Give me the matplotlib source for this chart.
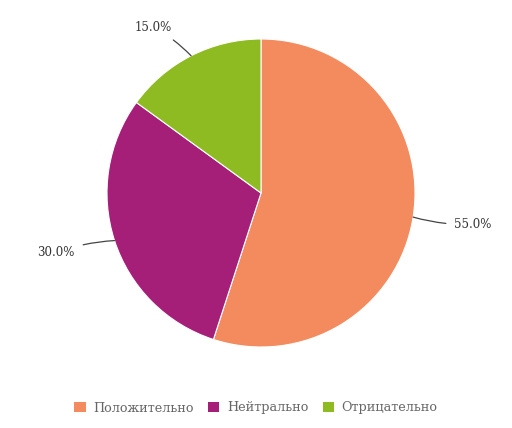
import numpy as np
import matplotlib.pyplot as plt
from matplotlib.patches import Patch

labels = ["Положительно", "Нейтрально", "Отрицательно"]
shares = [55.0, 30.0, 15.0]
colors = ["#F38B5E", "#A51F79", "#8EBA22"]

plt.rcParams["font.family"] = ["DejaVu Serif"]

fig = plt.figure(figsize=(5.12, 4.28), dpi=100)
# axes sized so the pie sits where it does in the reference
ax = fig.add_axes([(261 - 154) / 512, (428 - 193 - 154) / 428, 308 / 512, 308 / 428])

wedges, _ = ax.pie(shares, colors=colors, startangle=90, counterclock=False,
                   wedgeprops=dict(edgecolor="white", linewidth=0.8))
ax.set_xlim(-1, 1)
ax.set_ylim(-1, 1)
ax.set_aspect("equal")

for w, val in zip(wedges, shares):
    ang = np.deg2rad((w.theta1 + w.theta2) / 2)
    x, y = np.cos(ang), np.sin(ang)
    ha = "left" if x > 0 else "right"
    ax.annotate(f"{val:.1f}%", xy=(x, y), xytext=(1.27 * x, 1.22 * y - 0.012),
                ha=ha, va="center", fontsize=8.5, color="#333333",
                arrowprops=dict(arrowstyle="-", color="#444444", lw=0.9,
                                shrinkA=4, shrinkB=0,
                                connectionstyle="arc3,rad=-0.08"),
                annotation_clip=False)

handles = [Patch(facecolor=c, edgecolor="none") for c in colors]
leg = fig.legend(handles, labels, loc="center", bbox_to_anchor=(0.5, 1 - 408 / 428),
                 ncol=3, frameon=False, fontsize=9.2, handlelength=0.9, handleheight=0.9,
                 columnspacing=1.1, handletextpad=0.6)
for t in leg.get_texts():
    t.set_color("#666666")

fig.savefig("out.png", dpi=100)
